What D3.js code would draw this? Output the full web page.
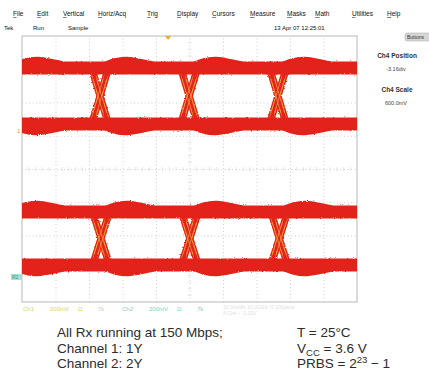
<!DOCTYPE html>
<html>
<head>
<meta charset="utf-8">
<script src="https://cdn.jsdelivr.net/npm/d3@7"></script>
<style>
  body { margin: 0; background: #fff; }
  svg { display: block; font-family: "Liberation Sans", Arial, sans-serif; }
</style>
</head>
<body>
<svg id="chart" width="429" height="374"></svg>
<script>
// menu + status texts
const menuItems = ['File', 'Edit', 'Vertical', 'Horiz/Acq', 'Trig', 'Display', 'Cursors', 'Measure', 'Masks', 'Math', 'Utilities', 'Help'];
const statusItems = ['Tek', 'Run', 'Sample'];
const timestamp = '13 Apr 07 12:25:01';
const sidePanel = [['Ch4 Position', '-3.16div'], ['Ch4 Scale', '600.0mV']];
const ch1Readout = ['Ch1', '200mV', 'Ω', '7k'];
const ch2Readout = ['Ch2', '200mV', 'Ω', '7k'];

// eye diagram values, in screen divisions (10 x 8)
const channels = ['1', '2'];
const highLevel = [3.04, -1.29];
const lowLevel = [1.35, -2.89];
const crossings = [
  [-0.33, 2.33, 4.99, 7.64, 10.3],
  [-0.33, 2.36, 5.01, 7.68, 10.3]
];
const riseTime = [0.5, 0.5];
const edgeJitter = [-0.09, -0.03, 0.03, 0.09];
const streakJitter = [-0.06, 0.05];
// overshoot after each transition: time after crossing, size
const overshootT = [0.2, 0.45, 0.8, 1.15, 1.55];
const overshootV = [0, 0.11, 0.16, 0.09, 0];

const svg = d3.select('#chart');
const red = '#e3231b';
const orange = '#f0a838';

const gLeft = 22, gRight = 357, gTop = 36, gBottom = 302;
const x = d3.scaleLinear().domain([0, 10]).range([gLeft, gRight]);
const y = d3.scaleLinear().domain([-4, 4]).range([gBottom, gTop]);

// fuzzy trace edges, solid core
const defs = svg.append('defs');
const f = defs.append('filter').attr('id', 'rough')
  .attr('x', '-5%').attr('y', '-5%').attr('width', '110%').attr('height', '110%');
f.append('feTurbulence').attr('type', 'fractalNoise').attr('baseFrequency', 0.7)
  .attr('numOctaves', 2).attr('seed', 3).attr('result', 'n');
f.append('feDisplacementMap').attr('in', 'SourceGraphic').attr('in2', 'n')
  .attr('scale', 2.2).attr('xChannelSelector', 'R').attr('yChannelSelector', 'G').attr('result', 'disp');
f.append('feMorphology').attr('in', 'SourceGraphic').attr('operator', 'erode')
  .attr('radius', 1.5).attr('result', 'core');
const fm = f.append('feMerge');
fm.append('feMergeNode').attr('in', 'disp');
fm.append('feMergeNode').attr('in', 'core');
defs.append('clipPath').attr('id', 'clip').append('rect')
  .attr('x', gLeft).attr('y', gTop).attr('width', gRight - gLeft).attr('height', gBottom - gTop);

// menu bar
const menuX = [13, 37, 63, 98, 147, 177, 212, 250, 287, 315, 352, 387];
menuItems.forEach((m, i) => {
  const t = svg.append('text').attr('x', menuX[i]).attr('y', 16)
    .attr('font-size', 6.5).attr('fill', '#111').text(m);
  const w = t.node().getComputedTextLength() / m.length;
  svg.append('line').attr('x1', menuX[i]).attr('x2', menuX[i] + w + 1)
    .attr('y1', 17.5).attr('y2', 17.5).attr('stroke', '#333').attr('stroke-width', 0.6);
});
const statusX = [4, 33, 68];
statusItems.forEach((s, i) => {
  svg.append('text').attr('x', statusX[i]).attr('y', 30)
    .attr('font-size', 6).attr('fill', '#111').text(s);
});
svg.append('text').attr('x', 274).attr('y', 30).attr('font-size', 6)
  .attr('fill', '#111').text(timestamp);

// side panel
svg.append('rect').attr('x', 405).attr('y', 33).attr('width', 28).attr('height', 8)
  .attr('rx', 2).attr('fill', '#d6d6d6').attr('stroke', '#aaa').attr('stroke-width', 0.5);
svg.append('text').attr('x', 407).attr('y', 39).attr('font-size', 5).attr('fill', '#333').text('Buttons');
sidePanel.forEach((p, i) => {
  svg.append('text').attr('x', 397).attr('y', 58 + i * 34).attr('text-anchor', 'middle')
    .attr('font-size', 6.5).attr('font-weight', 'bold').attr('fill', '#333').text(p[0]);
  svg.append('text').attr('x', 396).attr('y', 71 + i * 34).attr('text-anchor', 'middle')
    .attr('font-size', 5.5).attr('fill', '#444').text(p[1]);
});

// graticule
const grid = svg.append('g');
grid.append('g').attr('transform', `translate(0,${gBottom})`)
  .call(d3.axisBottom(x).tickValues(d3.range(1, 10)).tickSize(-(gBottom - gTop)).tickFormat(''))
  .call(g => g.select('.domain').remove());
grid.append('g').attr('transform', `translate(${gLeft},0)`)
  .call(d3.axisLeft(y).tickValues(d3.range(-3, 4)).tickSize(-(gRight - gLeft)).tickFormat(''))
  .call(g => g.select('.domain').remove());
grid.selectAll('.tick line').attr('stroke', '#cfcfcf').attr('stroke-dasharray', '1,2.5');
// minor ticks on centre lines
const minor = d3.range(0, 50).map(i => i / 5).filter(v => v % 1 !== 0);
grid.selectAll('.mx').data(minor).join('line')
  .attr('x1', d => x(d)).attr('x2', d => x(d))
  .attr('y1', y(0) - 2).attr('y2', y(0) + 2).attr('stroke', '#d4d4d4').attr('stroke-width', 0.6);
const minorY = d3.range(-20, 20).map(i => i / 5).filter(v => Math.abs(v % 1) > 0.01);
grid.selectAll('.my').data(minorY).join('line')
  .attr('x1', x(5) - 2).attr('x2', x(5) + 2)
  .attr('y1', d => y(d)).attr('y2', d => y(d)).attr('stroke', '#d4d4d4').attr('stroke-width', 0.6);
grid.append('rect').attr('x', gLeft).attr('y', gTop).attr('width', gRight - gLeft).attr('height', gBottom - gTop)
  .attr('fill', 'none').attr('stroke', '#c4c4c4').attr('stroke-width', 1.2);

// traces
const line = d3.line().x(d => x(d[0])).y(d => y(d[1]));
const bump = d3.line().x(d => x(d[0])).y(d => y(d[1])).curve(d3.curveBasis);
const clipped = svg.append('g').attr('clip-path', 'url(#clip)');
const traces = clipped.append('g').attr('filter', 'url(#rough)');
const streaks = clipped.append('g');

channels.forEach((ch, k) => {
  const hi = highLevel[k], lo = lowLevel[k], tr = riseTime[k];
  const g = traces.append('g');
  // transitions first, levels drawn over their ends
  crossings[k].forEach(c => {
    const edge = (j, a, b) => [[c + j - tr / 2 - 0.2, a], [c + j - tr / 2, a], [c + j + tr / 2, b], [c + j + tr / 2 + 0.2, b]];
    [[hi, lo], [lo, hi]].forEach(([a, b]) => {
      g.append('path').attr('d', line(edge(0, a, b)))
        .attr('fill', 'none').attr('stroke', orange).attr('stroke-width', 7);
      edgeJitter.forEach(j => {
        g.append('path').attr('d', line(edge(j, a, b)))
          .attr('fill', 'none').attr('stroke', red).attr('stroke-width', 1.5);
      });
      // faint yellow streaks inside the bundle, away from the level bands
      streakJitter.forEach(j => {
        const p0 = [c + j - tr / 2 + 0.2 * tr, a + 0.2 * (b - a)];
        const p1 = [c + j + tr / 2 - 0.2 * tr, b - 0.2 * (b - a)];
        streaks.append('path').attr('d', line([p0, p1]))
          .attr('stroke', '#f3c04a').attr('stroke-width', 0.7).attr('opacity', 0.85);
      });
    });
  });
  [hi, lo].forEach(v => {
    g.append('path').attr('d', line([[-1, v], [11, v]]))
      .attr('fill', 'none').attr('stroke', red).attr('stroke-width', 13);
  });
  crossings[k].forEach(c => {
    g.append('path').attr('d', bump(overshootT.map((t, i) => [c + t, hi + overshootV[i]])))
      .attr('fill', 'none').attr('stroke', red).attr('stroke-width', 13);
    g.append('path').attr('d', bump(overshootT.map((t, i) => [c + t, lo - overshootV[i]])))
      .attr('fill', 'none').attr('stroke', red).attr('stroke-width', 13);
  });
});

// channel / trigger markers
svg.append('text').attr('x', 17).attr('y', 133).attr('font-size', 6)
  .attr('fill', '#e0a030').text(channels[0]);
svg.append('rect').attr('x', 11).attr('y', 274).attr('width', 11).attr('height', 6)
  .attr('fill', '#a9e0d6');
svg.append('text').attr('x', 12).attr('y', 279).attr('font-size', 5)
  .attr('fill', '#2f9c8c').text('R' + channels[1]);
svg.append('path').attr('d', `M${x(4.36) - 3},${gTop} L${x(4.36) + 3},${gTop} L${x(4.36)},${gTop + 4}Z`)
  .attr('fill', '#e8b030');

// readouts under the graticule
const roX = [23, 50, 78, 98];
ch1Readout.forEach((s, i) => svg.append('text').attr('x', roX[i]).attr('y', 311)
  .attr('font-size', 6).attr('fill', '#e2d25a').text(s));
ch2Readout.forEach((s, i) => svg.append('text').attr('x', roX[i] + 99).attr('y', 311)
  .attr('font-size', 6).attr('fill', '#7fcfc0').text(s));
svg.append('text').attr('x', 223).attr('y', 309).attr('font-size', 5).attr('fill', '#e0e0e0')
  .text('10.0ns/div  10.0GS/s  IT 100ps/pt');
svg.append('text').attr('x', 223).attr('y', 315).attr('font-size', 5).attr('fill', '#e0e0e0')
  .text('A  Ch4 \u2193  -1.32V');

// caption
const cap = svg.append('g').attr('font-size', 13.5).attr('fill', '#2b2b2b');
['All Rx running at 150 Mbps;', 'Channel 1: 1Y', 'Channel 2: 2Y'].forEach((s, i) => {
  cap.append('text').attr('x', 57).attr('y', 337 + i * 15.5).text(s);
});
cap.append('text').attr('x', 297).attr('y', 337).text('T = 25\u00b0C');
const vcc = cap.append('text').attr('x', 297).attr('y', 352.5);
vcc.append('tspan').text('V');
vcc.append('tspan').attr('font-size', 9.5).attr('dy', 3).text('CC');
vcc.append('tspan').attr('dy', -3).text(' = 3.6 V');
const prbs = cap.append('text').attr('x', 297).attr('y', 368);
prbs.append('tspan').text('PRBS = 2');
prbs.append('tspan').attr('font-size', 9.5).attr('dy', -5).text('23');
prbs.append('tspan').attr('dy', 5).text(' \u2212 1');
</script>
</body>
</html>
